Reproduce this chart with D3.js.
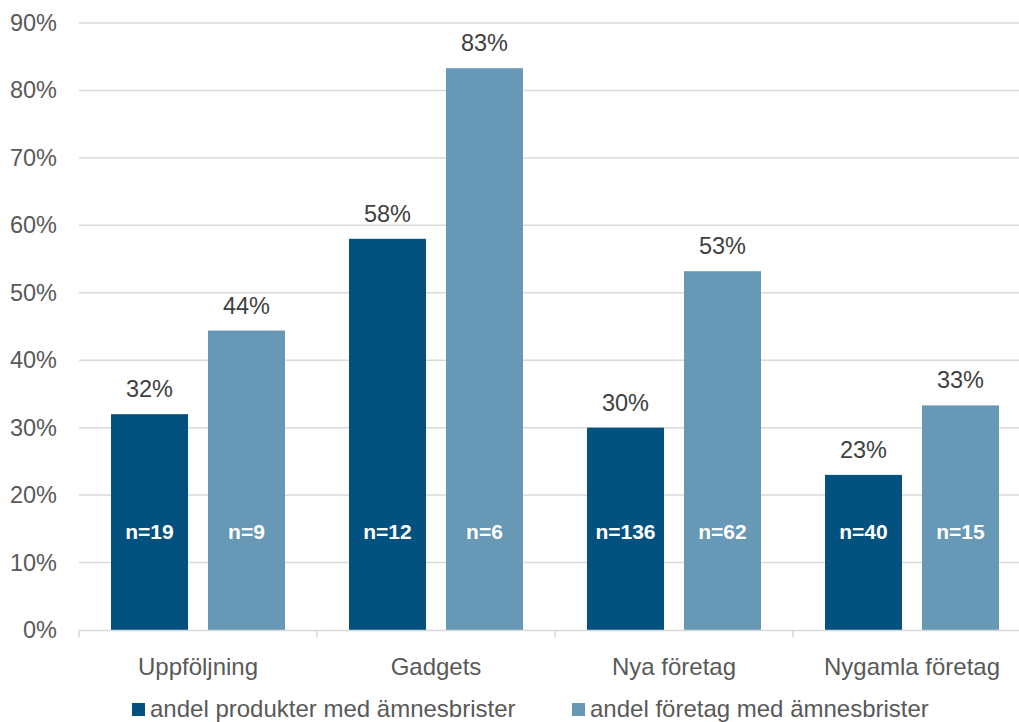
<!DOCTYPE html>
<html>
<head>
<meta charset="utf-8">
<script src="https://cdn.jsdelivr.net/npm/d3@7"></script>
<style>
  body { margin: 0; background: #fff; overflow: hidden; }
  svg { display: block; font-family: "Liberation Sans", Arial, sans-serif; }
</style>
</head>
<body>
<svg id="chart"></svg>
<script>
const width = 1019;
const height = 722;

const categories = ['Uppföljning', 'Gadgets', 'Nya företag', 'Nygamla företag'];
const seriesNames = ['andel produkter med ämnesbrister', 'andel företag med ämnesbrister'];
const produkter = [0.32, 0.58, 0.30, 0.23];
const foretag = [0.444, 0.833, 0.532, 0.333];
const nProdukter = [19, 12, 136, 40];
const nForetag = [9, 6, 62, 15];
const yTicks = [0, 0.1, 0.2, 0.3, 0.4, 0.5, 0.6, 0.7, 0.8, 0.9];
const colors = ['#02517f', '#6798b6'];

const margin = { top: 23, left: 79, bottom: 92 };
const plotRight = 1031; // last category runs past the window edge

const rows = categories.map((c, i) => ({
    cat: c,
    vals: [
        { s: 0, v: produkter[i], n: nProdukter[i] },
        { s: 1, v: foretag[i], n: nForetag[i] }
    ]
}));

const svg = d3.select('#chart')
    .attr('width', width)
    .attr('height', height);

const x0 = d3.scaleBand()
    .domain(categories)
    .range([margin.left, plotRight])
    .padding(0);

const x1 = d3.scaleBand()
    .domain([0, 1])
    .range([32, x0.bandwidth() - 32])
    .paddingInner(0.206);

const y = d3.scaleLinear()
    .domain([0, 0.9])
    .range([height - margin.bottom, margin.top]);

// gridlines
svg.append('g')
    .selectAll('line')
    .data(yTicks.slice(1))
    .join('line')
    .attr('x1', margin.left)
    .attr('x2', plotRight)
    .attr('y1', d => y(d))
    .attr('y2', d => y(d))
    .attr('stroke', '#d9d9d9')
    .attr('stroke-width', 1.5);

// y axis labels
const yAxis = svg.append('g')
    .attr('transform', `translate(${margin.left},0)`)
    .call(d3.axisLeft(y).tickValues(yTicks).tickFormat(d3.format('.0%')).tickSize(0).tickPadding(22));
yAxis.select('.domain').remove();
yAxis.selectAll('text')
    .attr('fill', '#595959')
    .style('font-size', '23.5px')
    .style('font-family', '"Liberation Sans", Arial, sans-serif');

// bars
const groups = svg.append('g')
    .selectAll('g')
    .data(rows)
    .join('g')
    .attr('transform', d => `translate(${x0(d.cat)},0)`);

groups.selectAll('rect')
    .data(d => d.vals)
    .join('rect')
    .attr('x', d => x1(d.s))
    .attr('width', x1.bandwidth())
    .attr('y', d => y(d.v))
    .attr('height', d => y(0) - y(d.v))
    .attr('fill', d => colors[d.s]);

groups.selectAll('text.val')
    .data(d => d.vals)
    .join('text')
    .attr('class', 'val')
    .attr('x', d => x1(d.s) + x1.bandwidth() / 2)
    .attr('y', d => y(d.v) - 17)
    .attr('text-anchor', 'middle')
    .attr('fill', '#404040')
    .style('font-size', '23.5px')
    .text(d => Math.round(d.v * 100) + '%');

groups.selectAll('text.n')
    .data(d => d.vals)
    .join('text')
    .attr('class', 'n')
    .attr('x', d => x1(d.s) + x1.bandwidth() / 2)
    .attr('y', 539)
    .attr('text-anchor', 'middle')
    .attr('fill', '#fff')
    .style('font-size', '21px')
    .style('font-weight', 'bold')
    .text(d => 'n=' + d.n);

// x axis
const xAxis = svg.append('g')
    .attr('transform', `translate(0,${y(0)})`)
    .call(d3.axisBottom(x0).tickSize(0).tickPadding(28));
xAxis.select('.domain')
    .attr('stroke', '#d9d9d9')
    .attr('stroke-width', 1.5);
xAxis.selectAll('text')
    .attr('fill', '#595959')
    .style('font-size', '24px')
    .style('font-family', '"Liberation Sans", Arial, sans-serif');

// category separators
svg.append('g')
    .selectAll('line')
    .data(categories)
    .join('line')
    .attr('x1', d => x0(d))
    .attr('x2', d => x0(d))
    .attr('y1', y(0))
    .attr('y2', y(0) + 7)
    .attr('stroke', '#d9d9d9')
    .attr('stroke-width', 1.5);

// legend
const legendX = [132, 572];
const legend = svg.append('g')
    .selectAll('g')
    .data(seriesNames)
    .join('g')
    .attr('transform', (d, i) => `translate(${legendX[i]},703)`);
legend.append('rect')
    .attr('width', 13)
    .attr('height', 13)
    .attr('fill', (d, i) => colors[i]);
legend.append('text')
    .attr('x', 18)
    .attr('y', 14)
    .attr('fill', '#595959')
    .style('font-size', '24px')
    .text(d => d);
</script>
</body>
</html>
